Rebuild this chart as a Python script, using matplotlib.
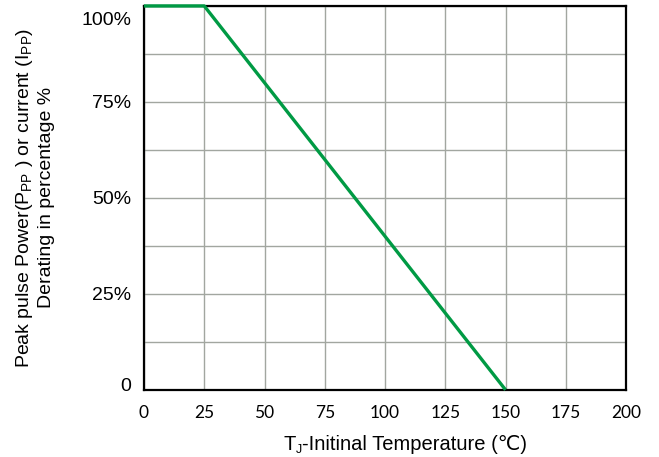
import matplotlib
matplotlib.use('Agg')
import matplotlib.pyplot as plt
import matplotlib.transforms as mtransforms
from matplotlib.ticker import MultipleLocator

plt.rcParams['font.family'] = ['Liberation Sans', 'DejaVu Sans']
plt.rcParams['mathtext.fontset'] = 'custom'
plt.rcParams['mathtext.rm'] = 'Liberation Sans'

# derating curve
temp_c = [0, 25, 150]
derating_pct = [100, 100, 0]

x_ticks = [0, 25, 50, 75, 100, 125, 150, 175, 200]
y_ticks = [0, 25, 50, 75, 100]
y_labels = ['0', '25%', '50%', '75%', '100%']

lineColour = '#009a44'
gridColour = '#a2a6a0'

fig = plt.figure(figsize=(6.59, 4.57), dpi=100)
ax = fig.add_axes([0.2185, 0.147, 0.7315, 0.84])

ax.plot(temp_c, derating_pct, color=lineColour, lw=2.4, solid_capstyle='butt', zorder=3, clip_on=False)

ax.set_xlim(0, 200)
ax.set_ylim(0, 100)
ax.set_xticks(x_ticks)
ax.set_xticklabels([str(t) for t in x_ticks], fontfamily=['Lato', 'DejaVu Sans'], fontsize=12.5)
ax.set_yticks(y_ticks)
ax.set_yticklabels(y_labels, fontsize=14)
ax.yaxis.set_minor_locator(MultipleLocator(12.5))

ax.grid(True, which='major', color=gridColour, lw=1.0)
ax.grid(True, which='minor', axis='y', color=gridColour, lw=1.0)
ax.set_axisbelow(True)

ax.tick_params(which='both', length=0, colors='black')
ax.tick_params(axis='x', pad=11)
ax.tick_params(axis='y', pad=9)

for s in ax.spines.values():
    s.set_linewidth(1.6)
    s.set_color('black')

# nudge the end labels inside like the original
labs = ax.get_yticklabels()
labs[-1].set_transform(labs[-1].get_transform() + mtransforms.ScaledTranslation(0, -9 / 72, fig.dpi_scale_trans))
labs[0].set_transform(labs[0].get_transform() + mtransforms.ScaledTranslation(0, 4 / 72, fig.dpi_scale_trans))

# x label built from pieces so the degree-celsius sign can fall back to DejaVu
base_y = 0.0153
t1 = fig.text(283 / 659, base_y, 'T', fontsize=14.5, va='baseline', ha='left')
t2 = plt.annotate('J', xy=(1, base_y), xycoords=(t1, 'figure fraction'),
                  xytext=(0.3, -2), textcoords='offset points',
                  fontsize=9, va='baseline', ha='left')
plt.annotate('-Initinal Temperature (℃)', xy=(1, base_y), xycoords=(t2, 'figure fraction'),
             xytext=(0.3, 0), textcoords='offset points',
             fontsize=14.5, va='baseline', ha='left')

ax.set_ylabel('Peak pulse Power(P$_{\\mathrm{PP}}$ ) or current (I$_{\\mathrm{PP}}$)\nDerating in percentage %',
              fontsize=14, multialignment='center')
ax.yaxis.set_label_coords(-0.185, 0.5)

plt.savefig('out.png', dpi=100)
